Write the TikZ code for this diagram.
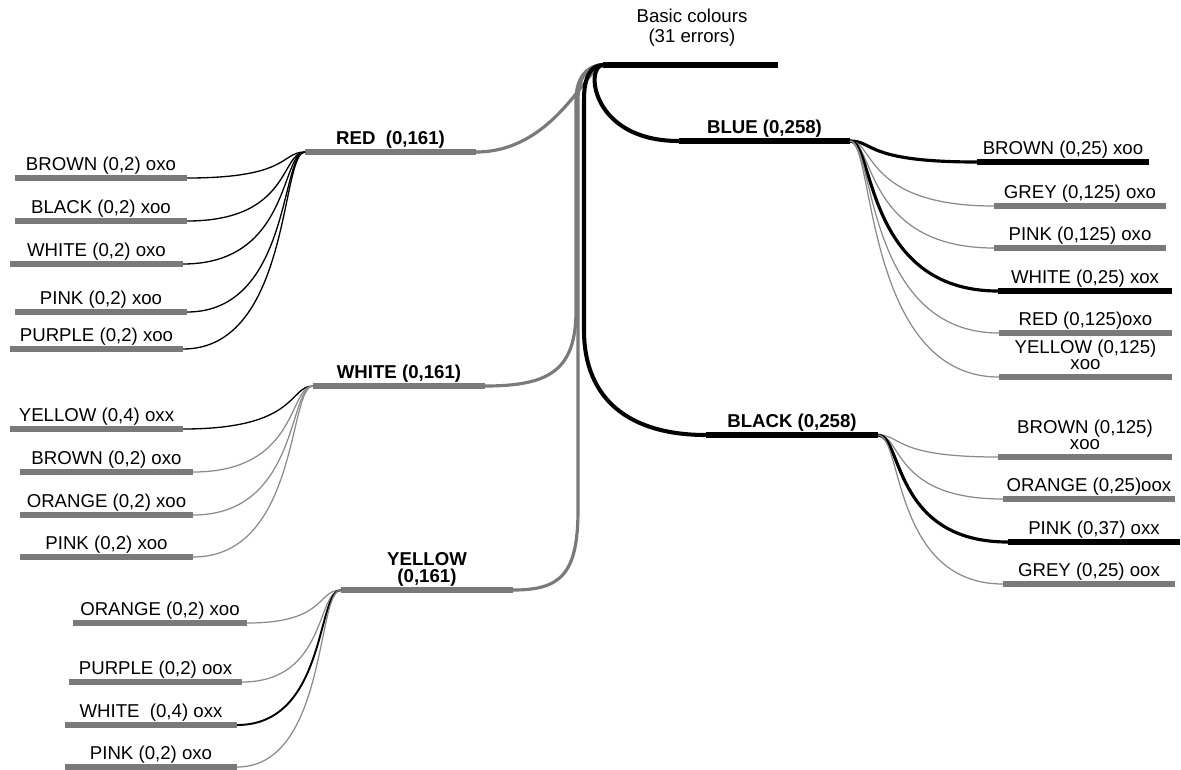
\documentclass[tikz,border=0pt]{standalone}
\usepackage{fontspec}
\setmainfont{Liberation Sans}
\usetikzlibrary{calc}
\definecolor{bargrey}{HTML}{7A7A7A}
\definecolor{twiggrey}{HTML}{8A8A8A}

\tikzset{
  bar/.style={line width=2.9pt},
  gbar/.style={bar, bargrey},
  kbar/.style={bar, black},
  gstem/.style={line width=1.8pt, bargrey},
  kstem/.style={line width=2.3pt, black},
  gtwig/.style={line width=0.7pt, twiggrey},
  ktwig/.style={line width=0.75pt, black},
  kktwig/.style={line width=1.1pt, black},
  boldtwig/.style={line width=1.8pt, black},
  leaf/.style={anchor=south, inner sep=0pt, yshift=1.75pt, align=center,
               text depth=2.2pt, font=\fontsize{10.6}{12}\selectfont},
  cat/.style={leaf, font=\fontsize{10.6}{12}\selectfont\bfseries},
  title/.style={anchor=south, inner sep=0pt, align=center, text depth=2.2pt,
                font=\fontsize{10.6}{12}\selectfont}
}
% left twig: leaf bar (right end) up to parent bar (left end)
\newcommand\twigL[3]{%
  \draw[#1] let \p1=(#2), \p2=(#3) in
    (\p2) .. controls (\x1-8pt,\y2) and (\x1-14pt,\y1) .. (\p1);}
% right twig: parent bar (right end) down to leaf bar (left end)
\newcommand\twigR[3]{%
  \draw[#1] let \p1=(#2), \p2=(#3) in
    (\p1) .. controls (\x1+14pt,\y1) and (\x1+8pt,\y2) .. (\p2);}

\begin{document}
\begin{tikzpicture}[x=0.02cm, y=-0.02cm]
  \useasboundingbox (0,0) rectangle (1181,769);
  % root
  \draw[kbar] (603,65) coordinate (root-l) -- (778,65) coordinate (root-r);
  \node[title] (root) at (692,47) {Basic colours\\[-0.7pt](31 errors)};
  % first level
  \foreach \nm/\xa/\xb/\y/\bs/\txt in {
    red/305/476/152/gbar/{RED\ \ (0,161)},
    white/313/485/386/gbar/{WHITE (0,161)},
    yellow/341/513/590/gbar/{YELLOW\\[-2pt](0,161)},
    blue/679/850/141/kbar/{BLUE (0,258)},
    black/706/878/435/kbar/{BLACK (0,258)}}{
    \draw[\bs] (\xa,\y) coordinate (\nm-l) -- (\xb,\y) coordinate (\nm-r);
    \node[cat] (\nm) at ({(\xa+\xb)/2},\y) {\txt};
  }
  % stems into the root
  \draw[gstem] (red-r) .. controls (555,152) and (588,65) .. (root-l);
  \draw[gstem] (white-r) .. controls (550,386) and (576,370) .. (576,310)
    -- (576,100) .. controls (576,80) and (585,65) .. (root-l);
  \draw[gstem] (yellow-r) .. controls (560,590) and (578,575) .. (578,510)
    -- (578,100) .. controls (578,80) and (586,65) .. (root-l);
  \draw[kstem] (root-l) .. controls (585,65) and (590,141) .. (blue-l);
  \draw[kstem] (root-l) .. controls (590,65) and (584,78) .. (584,100)
    -- (584,330) .. controls (584,400) and (630,435) .. (black-l);
  % RED
  \foreach \nm/\xa/\xb/\y/\bs/\ts/\txt in {
    rb/15/187/178/gbar/ktwig/{BROWN (0,2) oxo},
    rk/15/187/221/gbar/ktwig/{BLACK (0,2) xoo},
    rw/10/183/264/gbar/ktwig/{WHITE (0,2) oxo},
    rp/15/187/312/gbar/ktwig/{PINK (0,2) xoo},
    ru/10/183/349/gbar/ktwig/{PURPLE (0,2) xoo}}{
    \coordinate (\nm-r) at (\xb,\y);
    \twigL{\ts}{red-l}{\nm-r}
    \draw[\bs] (\xa,\y) coordinate (\nm-l) -- (\nm-r);
    \node[leaf] (\nm) at ({(\xa+\xb)/2},\y) {\txt};
  }
  % WHITE
  \foreach \nm/\xa/\xb/\y/\bs/\ts/\txt in {
    wy/10/183/429/gbar/ktwig/{YELLOW (0,4) oxx},
    wb/20/193/472/gbar/gtwig/{BROWN (0,2) oxo},
    wo/20/193/515/gbar/gtwig/{ORANGE (0,2) xoo},
    wp/20/193/557/gbar/gtwig/{PINK (0,2) xoo}}{
    \coordinate (\nm-r) at (\xb,\y);
    \twigL{\ts}{white-l}{\nm-r}
    \draw[\bs] (\xa,\y) coordinate (\nm-l) -- (\nm-r);
    \node[leaf] (\nm) at ({(\xa+\xb)/2},\y) {\txt};
  }
  % YELLOW
  \foreach \nm/\xa/\xb/\y/\bs/\ts/\txt in {
    yo/73/247/623/gbar/gtwig/{ORANGE (0,2) xoo},
    yu/69/242/682/gbar/gtwig/{PURPLE (0,2) oox},
    yw/65/237/725/gbar/kktwig/{WHITE\ \ (0,4) oxx},
    yp/65/237/767/gbar/gtwig/{PINK (0,2) oxo}}{
    \coordinate (\nm-r) at (\xb,\y);
    \twigL{\ts}{yellow-l}{\nm-r}
    \draw[\bs] (\xa,\y) coordinate (\nm-l) -- (\nm-r);
    \node[leaf] (\nm) at ({(\xa+\xb)/2},\y) {\txt};
  }
  % BLUE
  \foreach \nm/\xa/\xb/\y/\bs/\ts/\txt in {
    bb/977/1149/162/kbar/boldtwig/{BROWN (0,25) xoo},
    bg/994/1166/206/gbar/gtwig/{GREY (0,125) oxo},
    bp/994/1166/248/gbar/gtwig/{PINK (0,125) oxo},
    bw/998/1172/291/kbar/boldtwig/{WHITE (0,25) xox},
    br/999/1172/333/gbar/gtwig/{RED (0,125)oxo},
    by/999/1172/377/gbar/gtwig/{YELLOW (0,125)\\[-2.5pt]xoo}}{
    \coordinate (\nm-l) at (\xa,\y);
    \twigR{\ts}{blue-r}{\nm-l}
    \draw[\bs] (\nm-l) -- (\xb,\y) coordinate (\nm-r);
    \node[leaf] (\nm) at ({(\xa+\xb)/2},\y) {\txt};
  }
  % BLACK
  \foreach \nm/\xa/\xb/\y/\bs/\ts/\txt in {
    kb/998/1172/457/gbar/gtwig/{BROWN (0,125)\\[-2.5pt]xoo},
    ko/1003/1175/499/gbar/gtwig/{ORANGE (0,25)oox},
    kp/1008/1180/542/kbar/boldtwig/{PINK (0,37) oxx},
    kg/1003/1175/584/gbar/gtwig/{GREY (0,25) oox}}{
    \coordinate (\nm-l) at (\xa,\y);
    \twigR{\ts}{black-r}{\nm-l}
    \draw[\bs] (\nm-l) -- (\xb,\y) coordinate (\nm-r);
    \node[leaf] (\nm) at ({(\xa+\xb)/2},\y) {\txt};
  }
\end{tikzpicture}
\end{document}
